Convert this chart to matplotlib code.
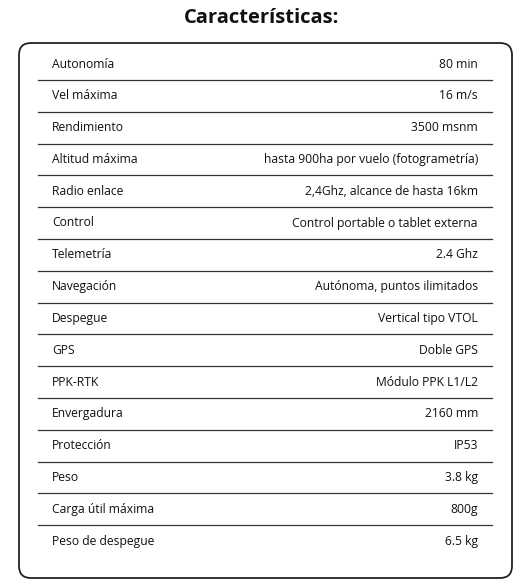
import matplotlib
matplotlib.use('Agg')
import matplotlib.pyplot as plt
from matplotlib.patches import FancyBboxPatch

labels = ['Autonomía', 'Vel máxima', 'Rendimiento', 'Altitud máxima', 'Radio enlace',
          'Control', 'Telemetría', 'Navegación', 'Despegue', 'GPS', 'PPK-RTK',
          'Envergadura', 'Protección', 'Peso', 'Carga útil máxima', 'Peso de despegue']
values = ['80 min', '16 m/s', '3500 msnm', 'hasta 900ha por vuelo (fotogrametría)',
          '2,4Ghz, alcance de hasta 16km', 'Control portable o tablet externa',
          '2.4 Ghz', 'Autónoma, puntos ilimitados', 'Vertical tipo VTOL', 'Doble GPS',
          'Módulo PPK L1/L2', '2160 mm', 'IP53', '3.8 kg', '800g', '6.5 kg']

fig = plt.figure(figsize=(5.25, 5.84), dpi=100)
ax = fig.add_axes([0, 0, 1, 1])
ax.set_xlim(0, 525)
ax.set_ylim(584, 0)
ax.axis('off')

plt.rcParams['font.family'] = ['Open Sans', 'DejaVu Sans']

ax.text(262, 18, 'Características:', ha='center', va='center',
        fontsize=14.5, fontweight='bold', color='#111111')

box = FancyBboxPatch((19, 43), 493, 535, boxstyle='round,pad=0,rounding_size=12',
                     fill=False, edgecolor='#222222', linewidth=1.3)
ax.add_patch(box)

y0, step = 64, 31.8
for i, (lab, val) in enumerate(zip(labels, values)):
    y = y0 + i * step
    ax.text(52, y, lab, ha='left', va='center', fontsize=8.7, color='#111111')
    ax.text(478, y, val, ha='right', va='center', fontsize=8.7, color='#111111')
    if i < len(labels) - 1:
        ax.plot([38, 492], [y + step / 2, y + step / 2], color='#333333', linewidth=0.9)

fig.savefig('out.png', dpi=100)
